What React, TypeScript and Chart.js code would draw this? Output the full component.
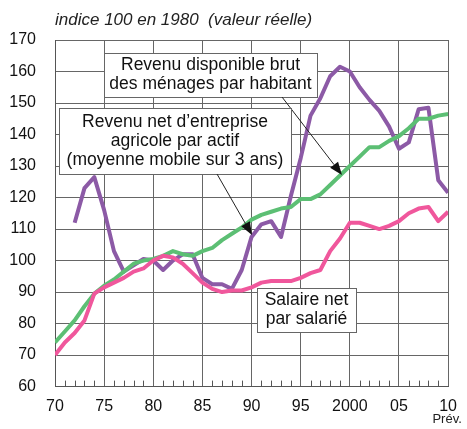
import React, { useEffect, useRef } from "react";
import { Chart, registerables } from "chart.js";

Chart.register(...registerables);

const years = [
  1970, 1971, 1972, 1973, 1974, 1975, 1976, 1977, 1978, 1979,
  1980, 1981, 1982, 1983, 1984, 1985, 1986, 1987, 1988, 1989,
  1990, 1991, 1992, 1993, 1994, 1995, 1996, 1997, 1998, 1999,
  2000, 2001, 2002, 2003, 2004, 2005, 2006, 2007, 2008, 2009, 2010,
];

// Revenu disponible brut des ménages par habitant
const revenuDisponible = [
  74, 77.5, 81, 85.5, 89.5, 92, 94, 96.5, 99, 100,
  100.5, 101.5, 103, 102, 101.5, 103, 104, 106.5, 108.5, 110.5,
  113, 114.5, 115.5, 116.5, 117, 119.5, 119.5, 121, 124, 127,
  130, 133, 136, 136, 138, 139.5, 142, 145, 145, 146, 146.5,
];

// Salaire net par salarié
const salaireNet = [
  70, 74, 77, 81, 89.5, 91.5, 93, 94.5, 96.5, 97.5,
  100, 101.5, 101, 99, 96, 93, 91, 90, 90.5, 90.5,
  91.5, 93, 93.5, 93.5, 93.5, 94.5, 96, 97, 103, 107,
  112, 112, 111, 110, 111, 112.5, 115, 116.5, 117, 112.5, 115.5,
];

// Revenu net d'entreprise agricole par actif (moyenne mobile sur 3 ans)
const revenuAgricole = [
  null, null, 112, 123, 126.5, 116, 103, 96.5, 98.5, 100.5,
  100, 97, 100, 102, 102, 94.5, 92.5, 92.5, 91, 97,
  107.5, 111.5, 112.5, 107.5, 120.5, 132.5, 146, 151.5, 158.5, 161.5,
  160, 155, 151, 147.5, 142.5, 135.5, 137.5, 148, 148.5, 125.5, 121.5,
];

const xTickValues = [1970, 1975, 1980, 1985, 1990, 1995, 2000, 2005, 2010];
const xTickLabels = ["70", "75", "80", "85", "90", "95", "2000", "05", "10"];
const yTickValues = [60, 70, 80, 90, 100, 110, 120, 130, 140, 150, 160, 170];

const FONT = "'Liberation Sans', Arial, sans-serif";

const toPoints = (arr: (number | null)[]) =>
  years.map((y, i) => ({ x: y, y: arr[i] }));

const annotationPlugin = {
  id: "annotations",
  afterDraw(chart: any) {
    const ctx = chart.ctx as CanvasRenderingContext2D;
    const xs = chart.scales.x;
    const area = chart.chartArea;
    ctx.save();

    // minor yearly ticks
    ctx.strokeStyle = "#555";
    ctx.lineWidth = 1;
    years.forEach((yr) => {
      if (yr % 5 === 0) return;
      const px = Math.round(xs.getPixelForValue(yr)) + 0.5;
      ctx.beginPath();
      ctx.moveTo(px, area.bottom);
      ctx.lineTo(px, area.bottom - 6);
      ctx.stroke();
    });

    // title
    ctx.fillStyle = "#222";
    ctx.font = `italic 17px ${FONT}`;
    ctx.textAlign = "left";
    ctx.textBaseline = "alphabetic";
    ctx.fillText("indice 100 en 1980  (valeur réelle)", area.left, 25);

    // Prév.
    ctx.font = `13px ${FONT}`;
    ctx.textAlign = "center";
    ctx.fillText("Prév.", xs.getPixelForValue(2010) - 1, 423);

    const arrow = (x1: number, y1: number, x2: number, y2: number) => {
      ctx.strokeStyle = "#222";
      ctx.fillStyle = "#111";
      ctx.lineWidth = 1;
      const a = Math.atan2(y2 - y1, x2 - x1);
      const L = 13;
      const W = 5;
      const bx = x2 - L * Math.cos(a);
      const by = y2 - L * Math.sin(a);
      ctx.beginPath();
      ctx.moveTo(x1, y1);
      ctx.lineTo(bx, by);
      ctx.stroke();
      ctx.beginPath();
      ctx.moveTo(x2, y2);
      ctx.lineTo(bx + W * Math.sin(a), by - W * Math.cos(a));
      ctx.lineTo(bx - W * Math.sin(a), by + W * Math.cos(a));
      ctx.closePath();
      ctx.fill();
    };

    const box = (
      x: number,
      y: number,
      w: number,
      h: number,
      lines: string[],
      cy: number[]
    ) => {
      ctx.fillStyle = "#fff";
      ctx.fillRect(x, y, w, h);
      ctx.strokeStyle = "#666";
      ctx.lineWidth = 1;
      ctx.strokeRect(x + 0.5, y + 0.5, w, h);
      ctx.fillStyle = "#111";
      ctx.font = `17.5px ${FONT}`;
      ctx.textAlign = "center";
      ctx.textBaseline = "middle";
      lines.forEach((t, i) => ctx.fillText(t, x + w / 2, cy[i]));
    };

    box(104, 53, 213, 44, ["Revenu disponible brut", "des ménages par habitant"], [65, 84]);
    arrow(282, 97, 342, 175);
    box(
      59,
      108,
      232,
      66,
      ["Revenu net d’entreprise", "agricole par actif", "(moyenne mobile sur 3 ans)"],
      [122, 141, 160]
    );
    arrow(217, 174, 252, 235);
    box(257, 288, 99, 44, ["Salaire net", "par salarié"], [300, 319]);

    ctx.restore();
  },
};

export default function App() {
  const ref = useRef<HTMLCanvasElement | null>(null);

  useEffect(() => {
    if (!ref.current) return;
    const common = {
      borderWidth: 4,
      pointRadius: 0,
      tension: 0,
      borderJoinStyle: "round" as const,
      borderCapStyle: "butt" as const,
    };
    const chart = new Chart(ref.current, {
      type: "line",
      data: {
        datasets: [
          {
            label: "Salaire net par salarié",
            data: toPoints(salaireNet),
            borderColor: "#f0579c",
            ...common,
          },
          {
            label: "Revenu disponible brut des ménages par habitant",
            data: toPoints(revenuDisponible),
            borderColor: "#5cbf74",
            ...common,
          },
          {
            label: "Revenu net d'entreprise agricole par actif",
            data: toPoints(revenuAgricole),
            borderColor: "#8c5aa6",
            spanGaps: false,
            ...common,
          },
        ],
      },
      options: {
        animation: false,
        responsive: false,
        layout: { padding: { top: 40, right: 15, left: 0, bottom: 0 } },
        plugins: {
          legend: { display: false },
          tooltip: { enabled: false },
        },
        scales: {
          x: {
            type: "linear",
            min: 1970,
            max: 2010,
            afterBuildTicks: (scale: any) => {
              scale.ticks = xTickValues.map((v) => ({ value: v }));
            },
            afterFit: (scale: any) => {
              scale.height = 42.4;
            },
            ticks: {
              color: "#111",
              font: { family: FONT, size: 16 },
              padding: 10,
              maxRotation: 0,
              autoSkip: false,
              callback: (v: any) => {
                const i = xTickValues.indexOf(Number(v));
                return i >= 0 ? xTickLabels[i] : "";
              },
            },
            grid: { color: "#666", lineWidth: 1, drawTicks: false },
            border: { color: "#555", width: 1 },
          },
          y: {
            type: "linear",
            min: 60,
            max: 170,
            afterBuildTicks: (scale: any) => {
              scale.ticks = yTickValues.map((v) => ({ value: v }));
            },
            afterFit: (scale: any) => {
              scale.width = 55;
            },
            ticks: {
              color: "#111",
              font: { family: FONT, size: 16 },
              padding: 19,
              autoSkip: false,
            },
            grid: { color: "#666", lineWidth: 1, drawTicks: false },
            border: { color: "#555", width: 1 },
          },
        },
      },
      plugins: [annotationPlugin],
    });
    return () => chart.destroy();
  }, []);

  return (
    <div style={{ position: "absolute", left: 0, top: 0, width: 467, height: 429, background: "#fff" }}>
      <canvas ref={ref} width={467} height={429} style={{ display: "block" }} />
    </div>
  );
}
